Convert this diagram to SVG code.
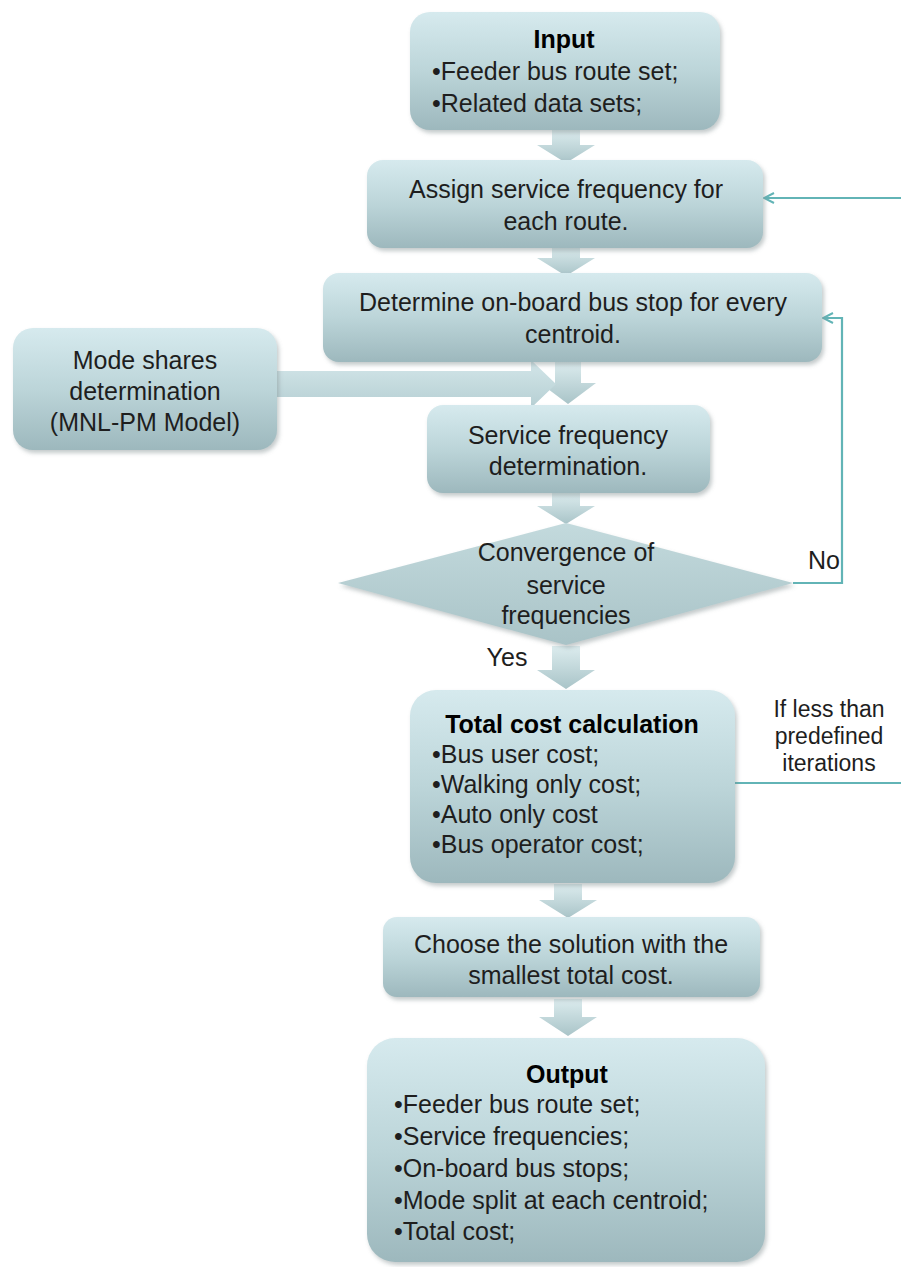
<svg xmlns="http://www.w3.org/2000/svg" width="901" height="1267" viewBox="0 0 901 1267">
<style>
  .box { fill: url(#boxGrad); filter: url(#shadow); }
  .chev { fill: url(#chevGrad); }
  .t { font-family: "Liberation Sans", Arial, sans-serif; font-size: 25px; fill: #1e1e1e; }
  .s { font-size: 23px; }
  .c { text-anchor: middle; }
  .b { font-weight: bold; fill: #000; }
  .conn { fill: none; stroke: #62b4b6; stroke-width: 2.2; }
</style>
<defs>
  <linearGradient id="boxGrad" x1="0" y1="0" x2="0" y2="1">
    <stop offset="0" stop-color="#d6eaee"/>
    <stop offset="0.5" stop-color="#bcd5d9"/>
    <stop offset="1" stop-color="#9db8bd"/>
  </linearGradient>
  <linearGradient id="diaGrad" x1="0" y1="0" x2="0" y2="1">
    <stop offset="0" stop-color="#c3dadd"/>
    <stop offset="1" stop-color="#a9c3c7"/>
  </linearGradient>
  <linearGradient id="chevGrad" x1="0" y1="0" x2="0" y2="1">
    <stop offset="0" stop-color="#dcecee"/>
    <stop offset="1" stop-color="#a9c4c8"/>
  </linearGradient>
  <linearGradient id="hGrad" x1="0" y1="0" x2="0" y2="1">
    <stop offset="0" stop-color="#d3e6e9"/>
    <stop offset="1" stop-color="#b6cfd3"/>
  </linearGradient>
  <filter id="shadow" x="-10%" y="-10%" width="125%" height="130%">
    <feDropShadow dx="2" dy="3" stdDeviation="2" flood-color="#7a8a8c" flood-opacity="0.45"/>
  </filter>
  <marker id="open" viewBox="0 0 12 12" refX="11" refY="6" markerWidth="12" markerHeight="12" markerUnits="userSpaceOnUse" orient="auto">
    <path d="M1,1 L11,6 L1,11" fill="none" stroke="#62b4b6" stroke-width="2"/>
  </marker>
</defs>

<g id="connectors">
  <polygon id="arrow-input-assign" class="chev" points="552,130 580,130 580,145 595,145 566,163 537,145 552,145"/>
  <polygon id="arrow-assign-determine" class="chev" points="552,246 580,246 580,258 595,258 566,276 537,258 552,258"/>
  <polygon id="arrow-determine-service" class="chev" points="555,362 581,362 581,383 596,383 568,404 540,383 555,383"/>
  <polygon id="arrow-mode-service" fill="url(#hGrad)" points="277,371 531,371 531,360 556,384 531,408 531,397 277,397"/>
  <polygon id="arrow-service-diamond" class="chev" points="552,493 580,493 580,506 595,506 566,524 537,506 552,506"/>
  <polygon id="arrow-yes" class="chev" points="552,646 580,646 580,670 595,670 566,689 537,670 552,670"/>
  <polygon id="arrow-total-choose" class="chev" points="554,884 582,884 582,900 597,900 568,918 539,900 554,900"/>
  <polygon id="arrow-choose-output" class="chev" points="554,999 582,999 582,1017 597,1017 568,1036 539,1017 554,1017"/>
  <path id="conn-no" class="conn" d="M793,583 L842,583 L842,318 L823,318" marker-end="url(#open)"/>
  <path id="conn-iter" class="conn" d="M735,783 L905,783 L905,198 L764,198" marker-end="url(#open)"/>
  <text class="t c" x="824" y="569">No</text>
  <text class="t c" x="507" y="666">Yes</text>
  <text class="t s c" x="829" y="717">If  less than</text>
  <text class="t s c" x="829" y="744">predefined</text>
  <text class="t s c" x="829" y="771">iterations</text>
</g>

<g id="node-input">
  <rect class="box" x="410" y="12" width="310" height="118" rx="20"/>
  <text class="t c b" x="564" y="48">Input</text>
  <text class="t" x="432" y="80">•Feeder bus route set;</text>
  <text class="t" x="432" y="112">•Related data sets;</text>
</g>

<g id="node-assign">
  <rect class="box" x="367" y="160" width="396" height="88" rx="16"/>
  <text class="t c" x="566" y="198">Assign service frequency for</text>
  <text class="t c" x="566" y="230">each route.</text>
</g>

<g id="node-determine">
  <rect class="box" x="323" y="273" width="499" height="89" rx="16"/>
  <text class="t c" x="573" y="311">Determine on-board bus stop for every</text>
  <text class="t c" x="573" y="343">centroid.</text>
</g>

<g id="node-mode">
  <rect class="box" x="13" y="328" width="264" height="122" rx="20"/>
  <text class="t c" x="145" y="369">Mode shares</text>
  <text class="t c" x="145" y="400">determination</text>
  <text class="t c" x="145" y="431">(MNL-PM Model)</text>
</g>

<g id="node-service">
  <rect class="box" x="427" y="405" width="283" height="88" rx="16"/>
  <text class="t c" x="568" y="444">Service frequency</text>
  <text class="t c" x="568" y="475">determination.</text>
</g>

<g id="node-convergence">
  <polygon fill="url(#diaGrad)" filter="url(#shadow)" points="566,523 793,583 566,645 338,583"/>
  <text class="t c" x="566" y="561">Convergence of</text>
  <text class="t c" x="566" y="594">service</text>
  <text class="t c" x="566" y="624">frequencies</text>
</g>

<g id="node-total">
  <rect class="box" x="410" y="690" width="325" height="193" rx="26"/>
  <text class="t c b" x="572" y="733">Total cost calculation</text>
  <text class="t" x="432" y="763">•Bus user cost;</text>
  <text class="t" x="432" y="793">•Walking only cost;</text>
  <text class="t" x="432" y="823">•Auto only cost</text>
  <text class="t" x="432" y="853">•Bus operator cost;</text>
</g>

<g id="node-choose">
  <rect class="box" x="383" y="917" width="377" height="80" rx="14"/>
  <text class="t c" x="571" y="953">Choose the solution with the</text>
  <text class="t c" x="571" y="984">smallest total cost.</text>
</g>

<g id="node-output">
  <rect class="box" x="367" y="1038" width="398" height="224" rx="28"/>
  <text class="t c b" x="567" y="1083">Output</text>
  <text class="t" x="394" y="1113">•Feeder bus route set;</text>
  <text class="t" x="394" y="1145">•Service frequencies;</text>
  <text class="t" x="394" y="1177">•On-board bus stops;</text>
  <text class="t" x="394" y="1209">•Mode split at each centroid;</text>
  <text class="t" x="394" y="1240">•Total cost;</text>
</g>
</svg>
